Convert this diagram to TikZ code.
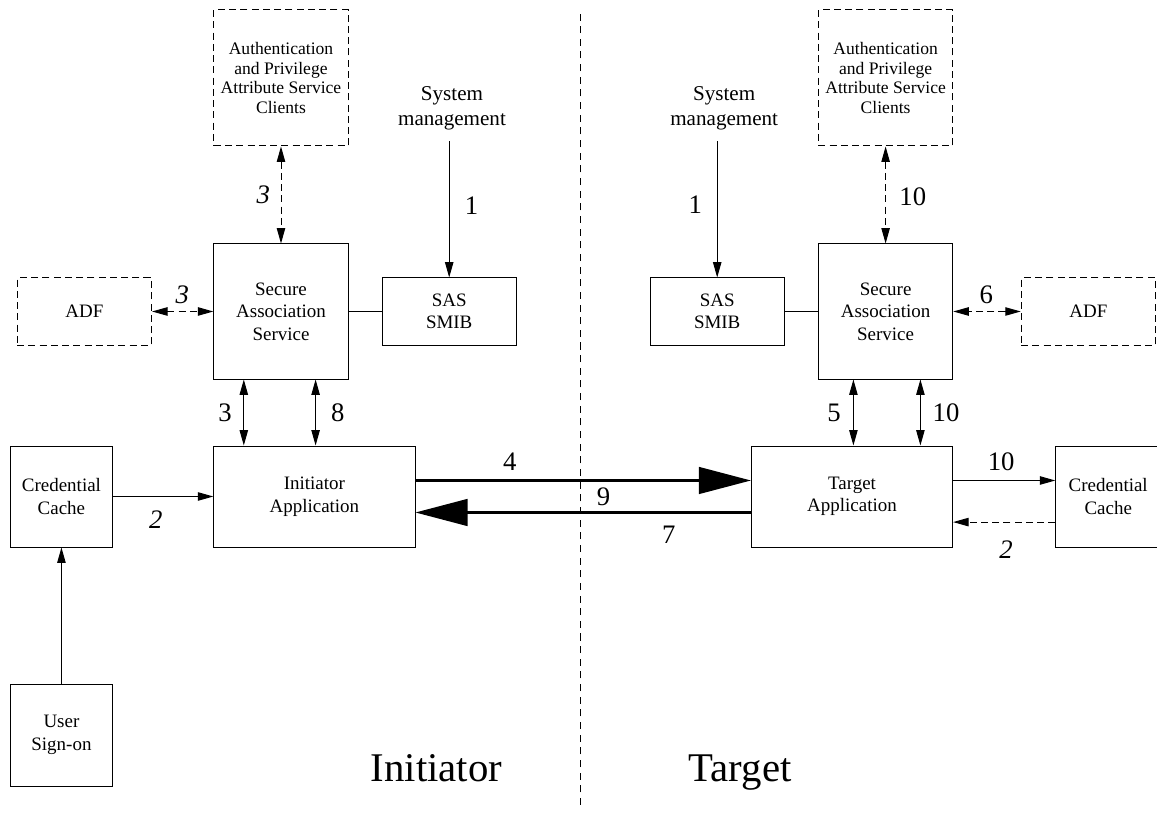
\documentclass[tikz,border=0pt]{standalone}
\usepackage{fontspec}
\setmainfont{Liberation Serif}
\usetikzlibrary{arrows.meta, positioning, calc}

\begin{document}
\begin{tikzpicture}[
  box/.style={draw, line width=0.7pt, align=center, inner sep=2pt, font=\fontsize{13.5}{16}\selectfont},
  dbox/.style={box, dash pattern=on 5pt off 3pt, font=\fontsize{12.5}{14.2}\selectfont},
  tallbox/.style={minimum width=3.36cm, minimum height=3.4cm},
  flatbox/.style={minimum width=3.36cm, minimum height=1.675cm},
  appbox/.style={box, minimum width=5.03cm, minimum height=2.525cm},
  cachebox/.style={box, minimum width=2.55cm, minimum height=2.525cm},
  sysmg/.style={align=center, inner sep=0pt, font=\fontsize{15}{17.8}\selectfont},
  num/.style={font=\fontsize{19}{19}\selectfont},
  inum/.style={font=\fontsize{19}{19}\selectfont\itshape},
  side/.style={anchor=base, font=\fontsize{29}{29}\selectfont},
  arr/.style={-{Triangle[length=11pt, width=6pt]}, line width=0.7pt},
  barr/.style={{Triangle[length=11pt, width=6pt]}-{Triangle[length=11pt, width=6pt]}, line width=0.7pt},
  darr/.style={barr, dash pattern=on 5pt off 3pt},
  bigarr/.style={-{Triangle[length=37pt, width=19pt]}, line width=1.6pt}
]
  \useasboundingbox (0,0) rectangle (28.925,20.325);

  % initiator side
  \node[dbox, tallbox] (apaL) at (7.025, 18.375) {Authentication\\and Privilege\\Attribute Service\\Clients};
  \node[box, tallbox, minimum height=3.375cm] (sasL) at (7.025, 12.5375) {Secure\\Association\\Service};
  \node[dbox, flatbox, font=\fontsize{13.5}{16}\selectfont] (adfL) at (2.109, 12.5375) {ADF};
  \node[box, flatbox] (smibL) at (11.23, 12.5375) {SAS\\SMIB};
  \node[sysmg] (sysL) at (11.3, 17.625) {System\\management};
  \node[appbox] (initApp) at (7.86, 7.9125) {Initiator\\Application};
  \node[cachebox] (credL) at (1.536, 7.9125) {Credential\\Cache};
  \node[cachebox, minimum height=2.55cm] (userSign) at (1.536, 1.95) {User\\Sign-on};

  % target side
  \node[dbox, tallbox] (apaR) at (22.14, 18.375) {Authentication\\and Privilege\\Attribute Service\\Clients};
  \node[box, tallbox, minimum height=3.375cm] (sasR) at (22.14, 12.5375) {Secure\\Association\\Service};
  \node[dbox, flatbox, font=\fontsize{13.5}{16}\selectfont] (adfR) at (27.21, 12.5375) {ADF};
  \node[box, flatbox] (smibR) at (17.93, 12.5375) {SAS\\SMIB};
  \node[sysmg] (sysR) at (18.105, 17.625) {System\\management};
  \node[appbox] (tgtApp) at (21.30, 7.9125) {Target\\Application};
  \node[cachebox, minimum width=2.62cm] (credR) at (27.705, 7.9125) {Credential\\Cache};

  \node[side] (initLbl) at (10.91, 0.78) {Initiator};
  \node[side] (tgtLbl) at (18.5, 0.78) {Target};

  % boundary between the two sides
  \draw[line width=0.7pt, dash pattern=on 5pt off 4pt] (14.52, 0.2) -- (14.52, 20.075);

  % initiator connectors
  \draw[arr, shorten <=8pt] (sysL.south -| smibL.north) -- (smibL.north);
  \draw[darr] (apaL) -- (sasL);
  \draw[darr] (adfL) -- (sasL);
  \draw[line width=0.7pt] (sasL) -- (smibL);
  \draw[barr] ([xshift=-0.93cm]sasL.south) -- ([xshift=-0.93cm]sasL.south |- initApp.north);
  \draw[barr] ([xshift=0.865cm]sasL.south) -- ([xshift=0.865cm]sasL.south |- initApp.north);
  \draw[arr] (credL) -- (initApp);
  \draw[arr] (userSign) -- (credL);

  % target connectors
  \draw[arr, shorten <=8pt] (sysR.south -| smibR.north) -- (smibR.north);
  \draw[darr] (apaR) -- (sasR);
  \draw[darr] (adfR) -- (sasR);
  \draw[line width=0.7pt] (sasR) -- (smibR);
  \draw[barr] ([xshift=-0.805cm]sasR.south) -- ([xshift=-0.805cm]sasR.south |- tgtApp.north);
  \draw[barr] ([xshift=0.87cm]sasR.south) -- ([xshift=0.87cm]sasR.south |- tgtApp.north);
  \draw[arr] ([yshift=0.4cm]tgtApp.east) -- ([yshift=0.4cm]tgtApp.east -| credR.west);
  \draw[arr, dash pattern=on 5pt off 3pt] ([yshift=-0.64cm]credR.west) -- ([yshift=-0.64cm]credR.west -| tgtApp.east);

  % messages between the applications
  \draw[bigarr] ([yshift=0.4cm]initApp.east) -- ([yshift=0.4cm]initApp.east -| tgtApp.west);
  \draw[bigarr] ([yshift=-0.4cm]tgtApp.west) -- ([yshift=-0.4cm]tgtApp.west -| initApp.east);

  % step numbers
  \node[inum] (n3a) at (6.585, 15.45) {3};
  \node[num] (n1a) at (11.79, 15.175) {1};
  \node[inum] (n3b) at (4.56, 12.95) {3};
  \node[num] (n3c) at (5.625, 10.0) {3};
  \node[num] (n8) at (8.445, 10.0) {8};
  \node[inum] (n2a) at (3.895, 7.325) {2};
  \node[num] (n4) at (12.745, 8.775) {4};
  \node[num] (n9) at (15.09, 7.9) {9};
  \node[num] (n7) at (16.72, 6.95) {7};
  \node[num] (n1b) at (17.385, 15.2) {1};
  \node[num] (n10a) at (22.82, 15.4) {10};
  \node[num] (n6) at (24.66, 12.95) {6};
  \node[num] (n5) at (20.85, 10.0) {5};
  \node[num] (n10b) at (23.65, 10.0) {10};
  \node[num] (n10c) at (25.03, 8.775) {10};
  \node[inum] (n2b) at (25.15, 6.575) {2};
\end{tikzpicture}
\end{document}
